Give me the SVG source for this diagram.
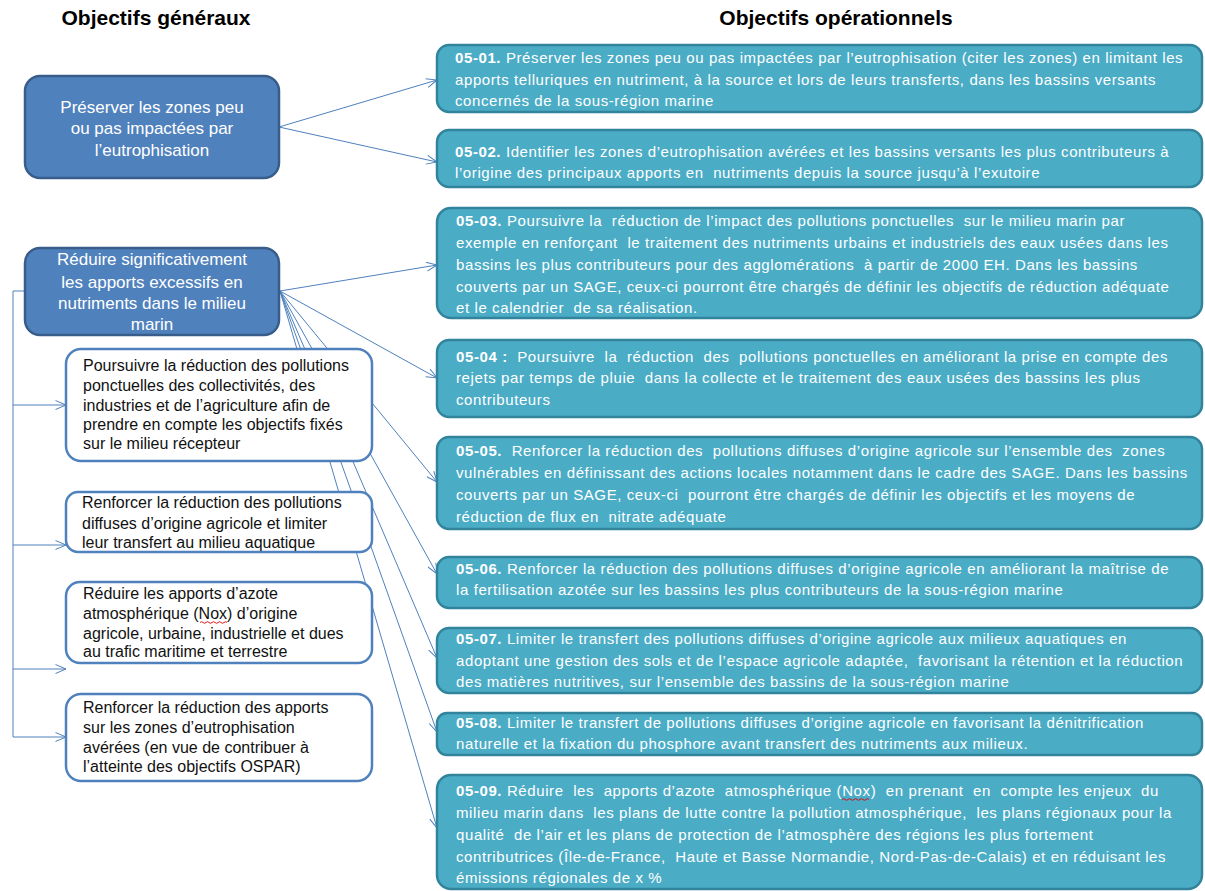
<svg xmlns="http://www.w3.org/2000/svg" width="1205" height="891" viewBox="0 0 1205 891">
<style>
.title{font-family:"Liberation Sans",Arial,sans-serif;font-weight:bold;font-size:21px;fill:#000;text-anchor:middle}
.blue rect{fill:#4F81BD;stroke:#385D8A;stroke-width:2.5}
.blue text{font-family:"Liberation Sans",Arial,sans-serif;font-size:17px;fill:#fff;text-anchor:middle}
.white rect{fill:#fff;stroke:#4F81BD;stroke-width:2.5}
.white text{font-family:"Liberation Sans",Arial,sans-serif;font-size:16px;fill:#111}
.op rect{fill:#4BACC6;stroke:#31849B;stroke-width:2.5}
.op text{font-family:"Liberation Sans",Arial,sans-serif;font-size:15px;letter-spacing:0.6px;fill:#fff;white-space:pre}
.op tspan.b{font-weight:bold}
.conn path{fill:none;stroke:#4F81BD;stroke-width:1}
.sq{fill:none;stroke:#e00000;stroke-width:0.9}
</style>
<defs>
<marker id="arr" viewBox="0 0 12 10" refX="11.5" refY="5" markerWidth="12" markerHeight="10" markerUnits="userSpaceOnUse" orient="auto">
<path d="M1,0.5 L11.5,5 L1,9.5" fill="none" stroke="#4F81BD" stroke-width="1"/>
</marker>
</defs>
<text class="title" x="156" y="25">Objectifs généraux</text>
<text class="title" x="836" y="25">Objectifs opérationnels</text>
<g id="connectors" class="conn">
<path d="M279,127 L437,80" marker-end="url(#arr)"/>
<path d="M279,127 L437,162" marker-end="url(#arr)"/>
<path d="M280,291 L437,265" marker-end="url(#arr)"/>
<path d="M280,291 L437,378" marker-end="url(#arr)"/>
<path d="M280,291 L437,482" marker-end="url(#arr)"/>
<path d="M280,291 L437,574" marker-end="url(#arr)"/>
<path d="M280,291 L437,658" marker-end="url(#arr)"/>
<path d="M280,291 L437,732" marker-end="url(#arr)"/>
<path d="M280,291 L437,828" marker-end="url(#arr)"/>
<path d="M25,291 H13 V737"/>
<path d="M13,405 H66" marker-end="url(#arr)"/>
<path d="M13,545 H66" marker-end="url(#arr)"/>
<path d="M13,669 H66" marker-end="url(#arr)"/>
<path d="M13,737 H66" marker-end="url(#arr)"/>
</g>
<g id="g1" class="blue">
<rect x="25" y="76" width="254" height="102" rx="15"/>
<text x="152" y="113">Préserver les zones peu</text>
<text x="152" y="134">ou pas impactées par</text>
<text x="152" y="156">l’eutrophisation</text>
</g>
<g id="g2" class="blue">
<rect x="25" y="248" width="254" height="87" rx="15"/>
<text x="152" y="265">Réduire significativement</text>
<text x="152" y="288">les apports excessifs en</text>
<text x="152" y="309">nutriments dans le milieu</text>
<text x="152" y="330">marin</text>
</g>
<g id="s1" class="white">
<rect x="66" y="349" width="306" height="112" rx="15"/>
<text x="83" y="371">Poursuivre la réduction des pollutions</text>
<text x="83" y="391">ponctuelles des collectivités, des</text>
<text x="83" y="411">industries et de l’agriculture afin de</text>
<text x="83" y="430">prendre en compte les objectifs fixés</text>
<text x="83" y="449">sur le milieu récepteur</text>
</g>
<g id="s2" class="white">
<rect x="66" y="492" width="306" height="60" rx="12"/>
<text x="82" y="508">Renforcer la réduction des pollutions</text>
<text x="82" y="529">diffuses d’origine agricole et limiter</text>
<text x="82" y="548">leur transfert au milieu aquatique</text>
</g>
<g id="s3" class="white">
<rect x="66" y="582" width="306" height="81" rx="14"/>
<text x="83" y="599">Réduire les apports d’azote</text>
<text x="83" y="619">atmosphérique (Nox) d’origine</text>
<text x="83" y="639">agricole, urbaine, industrielle et dues</text>
<text x="83" y="657">au trafic maritime et terrestre</text>
<path class="sq" d="M200,622.5 q1.5,-1.6 3,0 t3,0 t3,0 t3,0 t3,0 t3,0 t3,0 t3,0 t3,0"/>
</g>
<g id="s4" class="white">
<rect x="66" y="694" width="306" height="87" rx="15"/>
<text x="83" y="713">Renforcer la réduction des apports</text>
<text x="83" y="733">sur les zones d’eutrophisation</text>
<text x="83" y="753">avérées (en vue de contribuer à</text>
<text x="83" y="772">l’atteinte des objectifs OSPAR)</text>
</g>
<g id="o1" class="op">
<rect x="437" y="45" width="765" height="67" rx="12"/>
<text x="455" y="63"><tspan class="b">05-01.</tspan> Préserver les zones peu ou pas impactées par l’eutrophisation (citer les zones) en limitant les</text>
<text x="455" y="85">apports telluriques en nutriment, à la source et lors de leurs transferts, dans les bassins versants</text>
<text x="455" y="106">concernés de la sous-région marine</text>
</g>
<g id="o2" class="op">
<rect x="437" y="130" width="765" height="57" rx="12"/>
<text x="455" y="157"><tspan class="b">05-02.</tspan> Identifier les zones d’eutrophisation avérées et les bassins versants les plus contributeurs à</text>
<text x="455" y="178">l’origine des principaux apports en  nutriments depuis la source jusqu’à l’exutoire</text>
</g>
<g id="o3" class="op">
<rect x="437" y="208" width="765" height="110" rx="14"/>
<text x="456" y="226"><tspan class="b">05-03.</tspan> Poursuivre la  réduction de l’impact des pollutions ponctuelles  sur le milieu marin par</text>
<text x="456" y="248">exemple en renforçant  le traitement des nutriments urbains et industriels des eaux usées dans les</text>
<text x="456" y="270">bassins les plus contributeurs pour des agglomérations  à partir de 2000 EH. Dans les bassins</text>
<text x="456" y="292">couverts par un SAGE, ceux-ci pourront être chargés de définir les objectifs de réduction adéquate</text>
<text x="456" y="313">et le calendrier  de sa réalisation.</text>
</g>
<g id="o4" class="op">
<rect x="437" y="340" width="765" height="77" rx="12"/>
<text x="456" y="362"><tspan class="b">05-04 :</tspan>  Poursuivre  la  réduction  des  pollutions ponctuelles en améliorant la prise en compte des</text>
<text x="456" y="383">rejets par temps de pluie  dans la collecte et le traitement des eaux usées des bassins les plus</text>
<text x="456" y="405">contributeurs</text>
</g>
<g id="o5" class="op">
<rect x="437" y="437" width="765" height="92" rx="12"/>
<text x="456" y="456"><tspan class="b">05-05.</tspan>  Renforcer la réduction des  pollutions diffuses d’origine agricole sur l’ensemble des  zones</text>
<text x="456" y="478">vulnérables en définissant des actions locales notamment dans le cadre des SAGE. Dans les bassins</text>
<text x="456" y="500">couverts par un SAGE, ceux-ci  pourront être chargés de définir les objectifs et les moyens de</text>
<text x="456" y="522">réduction de flux en  nitrate adéquate</text>
</g>
<g id="o6" class="op">
<rect x="437" y="557" width="765" height="51" rx="12"/>
<text x="456" y="574"><tspan class="b">05-06.</tspan> Renforcer la réduction des pollutions diffuses d’origine agricole en améliorant la maîtrise de</text>
<text x="456" y="595">la fertilisation azotée sur les bassins les plus contributeurs de la sous-région marine</text>
</g>
<g id="o7" class="op">
<rect x="437" y="628" width="765" height="65" rx="12"/>
<text x="456" y="644"><tspan class="b">05-07.</tspan> Limiter le transfert des pollutions diffuses d’origine agricole aux milieux aquatiques en</text>
<text x="456" y="666">adoptant une gestion des sols et de l’espace agricole adaptée,  favorisant la rétention et la réduction</text>
<text x="456" y="687">des matières nutritives, sur l’ensemble des bassins de la sous-région marine</text>
</g>
<g id="o8" class="op">
<rect x="437" y="713" width="765" height="42" rx="10"/>
<text x="456" y="728"><tspan class="b">05-08.</tspan> Limiter le transfert de pollutions diffuses d’origine agricole en favorisant la dénitrification</text>
<text x="456" y="749">naturelle et la fixation du phosphore avant transfert des nutriments aux milieux.</text>
</g>
<g id="o9" class="op">
<rect x="437" y="775" width="765" height="114" rx="14"/>
<text x="456" y="796"><tspan class="b">05-09.</tspan> Réduire  les  apports d’azote  atmosphérique (Nox)  en prenant  en  compte les enjeux  du</text>
<text x="456" y="818">milieu marin dans  les plans de lutte contre la pollution atmosphérique,  les plans régionaux pour la</text>
<text x="456" y="840">qualité  de l’air et les plans de protection de l’atmosphère des régions les plus fortement</text>
<text x="456" y="862">contributrices (Île-de-France,  Haute et Basse Normandie, Nord-Pas-de-Calais) et en réduisant les</text>
<text x="456" y="883">émissions régionales de x %</text>
<path class="sq" d="M842,799.5 q1.5,-1.6 3,0 t3,0 t3,0 t3,0 t3,0 t3,0 t3,0 t3,0 t3,0"/>
</g>
</svg>
